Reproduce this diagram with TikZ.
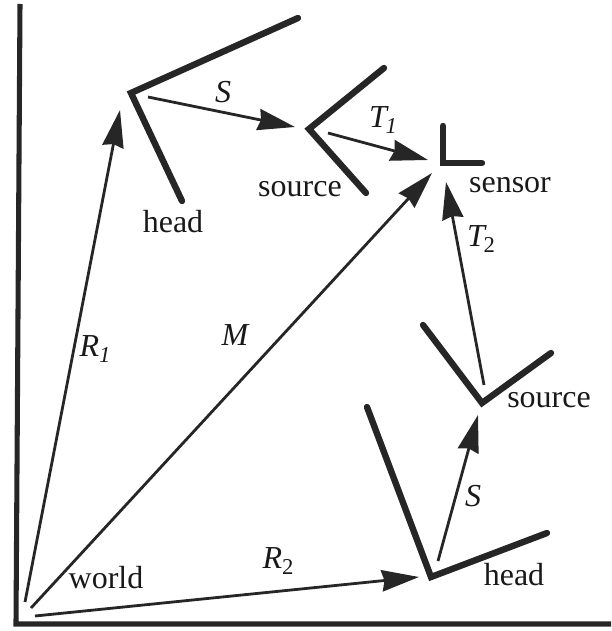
\documentclass[tikz,border=0pt]{standalone}
\usepackage{fontspec}
\setmainfont{Liberation Serif}
\usetikzlibrary{arrows.meta}
\tikzset{
 frameline/.style={line width=3.8pt,black!85},
 axisline/.style={line width=4.8pt,black!85,line cap=round,line join=miter},
 vec/.style={line width=2.1pt,black!85,-{Stealth[length=28pt,width=16pt,inset=2pt]}},
 lbl/.style={inner sep=0pt,font=\fontsize{24}{26}\selectfont,black!90},
 ilbl/.style={inner sep=0pt,font=\fontsize{24}{26}\selectfont\itshape,black!90},
}
\newcommand{\subs}[1]{\raisebox{-5pt}{\fontsize{17}{17}\selectfont #1}}
\begin{document}
\begin{tikzpicture}[x=0.75pt,y=-0.75pt]
\useasboundingbox (0,0) rectangle (611,631);
\coordinate (axtop) at (20,4);
\coordinate (axorg) at (16,624);
\coordinate (axend) at (611,624);
\draw[frameline] (axtop)--(axorg)--(axend);
\coordinate (head1) at (131,93);
\coordinate (h1a) at (298,18);
\coordinate (h1b) at (182,201);
\coordinate (src1) at (309,129);
\coordinate (s1a) at (384,68);
\coordinate (s1b) at (366,193);
\coordinate (sen) at (443,163);
\coordinate (sena) at (443,126);
\coordinate (senb) at (482,163);
\coordinate (head2) at (431,577);
\coordinate (h2a) at (367,407);
\coordinate (h2b) at (547,533);
\coordinate (src2) at (482,403);
\coordinate (s2a) at (423,325);
\coordinate (s2b) at (551,353);
\draw[axisline] (h1a)--(head1)--(h1b);
\draw[axisline] (s1a)--(src1)--(s1b);
\draw[axisline] (sena)--(sen)--(senb);
\draw[axisline] (h2a)--(head2)--(h2b);
\draw[axisline] (s2a)--(src2)--(s2b);
\coordinate (r1s) at (25,602);
\coordinate (r1e) at (120,110);
\coordinate (ss) at (148,97);
\coordinate (se) at (295,127);
\coordinate (t1s) at (328,133);
\coordinate (t1e) at (428,160);
\coordinate (ms) at (31,608);
\coordinate (me) at (432,173);
\coordinate (t2s) at (484,385);
\coordinate (t2e) at (446,182);
\coordinate (s2s) at (438,561);
\coordinate (s2e) at (478,415);
\coordinate (r2s) at (35,616);
\coordinate (r2e) at (419,577);
\draw[vec] (r1s)--(r1e);
\draw[vec] (ss)--(se);
\draw[vec] (t1s)--(t1e);
\draw[vec] (ms)--(me);
\draw[vec] (t2s)--(t2e);
\draw[vec] (s2s)--(s2e);
\draw[vec] (r2s)--(r2e);
\node[lbl] (lhead1) at (173,222) {head};
\node[lbl] (lsrc1) at (300,189) {source};
\node[lbl] (lsen) at (510,185) {sensor};
\node[lbl] (lsrc2) at (549,400) {source};
\node[lbl] (lhead2) at (514,575) {head};
\node[lbl] (lworld) at (106,578) {world};
\node[ilbl] (ls1) at (223,92) {S};
\node[ilbl] (lt1) at (383,120) {T\kern-1pt\subs{1}};
\node[ilbl] (lt2) at (481,239) {T\kern-1pt\subs{\upshape 2}};
\node[ilbl] (lr1) at (95,349) {R\subs{1}};
\node[ilbl] (lm) at (235,335) {M};
\node[ilbl] (ls2) at (473,496) {S};
\node[ilbl] (lr2) at (278,561) {R\subs{\upshape 2}};
\end{tikzpicture}
\end{document}
